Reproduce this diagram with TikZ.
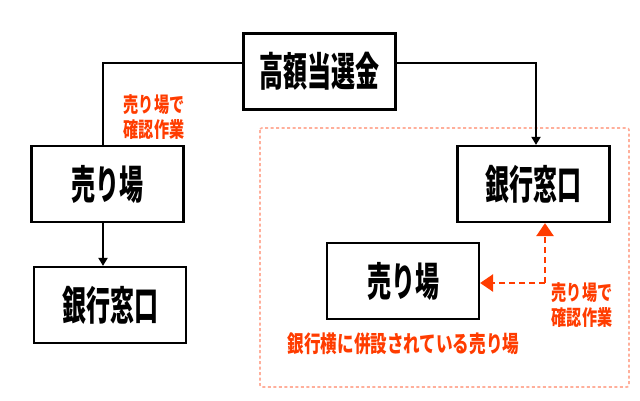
\documentclass[tikz,border=0pt]{standalone}
\usepackage{fontspec}
\newfontfamily\jpbox{Noto Sans CJK JP}[FakeStretch=0.6, BoldFont={Noto Sans CJK JP Black}]
\newfontfamily\jplab{Noto Sans CJK JP}[FakeStretch=0.72, BoldFont={Noto Sans CJK JP Black}]
\usetikzlibrary{arrows.meta}
\definecolor{lred}{RGB}{255,60,0}
\definecolor{lpink}{RGB}{255,175,155}
\begin{document}
\begin{tikzpicture}[x=1pt,y=-1pt,
  box/.style={draw, line width=2.2pt, inner sep=0pt, minimum width=152pt, minimum height=76pt,
    font=\jpbox\bfseries\fontsize{40}{40}\selectfont},
  conn/.style={line width=1.8pt},
  blackarrow/.style={conn, -{Triangle[length=8pt,width=9pt]}},
  redarrow/.style={draw=lred, line width=2.6pt, dash pattern=on 6pt off 4pt, -{Triangle[length=13pt,width=17pt,fill=lred,color=lred]}},
  redlabel/.style={text=lred, align=center, inner sep=0pt, font=\jplab\bfseries\fontsize{21}{25}\selectfont},
  grouprect/.style={draw=lpink, line width=1.6pt, dash pattern=on 3pt off 2.5pt, rounded corners=2pt}]
\useasboundingbox (0,0) rectangle (640,400);
\draw[grouprect] (260,128) rectangle (629,387);
\node[box] (top) at (319.5,71.5) {高額当選金};
\node[box] (lshop) at (107.5,184) {売り場};
\node[box] (lbank) at (110,305) {銀行窓口};
\node[box] (rbank) at (533.5,184) {銀行窓口};
\node[box] (rshop) at (403,281) {売り場};
\coordinate (corner) at (545,283);
\draw[conn] ([yshift=8.5pt]top.west) -| ([xshift=-4.5pt]lshop.north);
\draw[blackarrow] ([yshift=8.5pt]top.east) -| ([xshift=2.5pt]rbank.north);
\draw[blackarrow] ([xshift=-4.5pt]lshop.south) -- ([xshift=-4.5pt]lshop.south |- lbank.north);
\draw[redarrow] (corner) -- (corner |- rbank.south);
\draw[redarrow] (corner) -- (rshop.east |- corner);
\node[redlabel] (llab) at (154,117) {売り場で\\確認作業};
\node[redlabel] (rlab) at (582,305) {売り場で\\確認作業};
\node[redlabel, font=\jplab\bfseries\fontsize{23}{25}\selectfont] (blab) at (403.5,344) {銀行横に併設されている売り場};
\end{tikzpicture}
\end{document}
